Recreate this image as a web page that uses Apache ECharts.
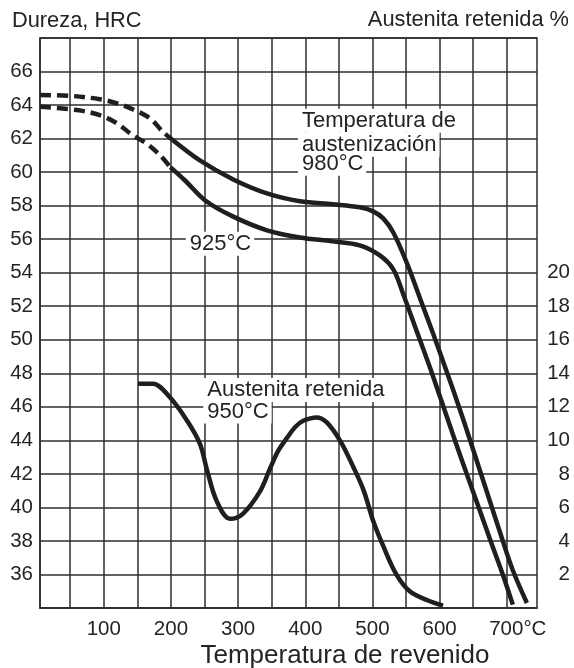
<!DOCTYPE html>
<html><head><meta charset="utf-8">
<script src="https://cdn.jsdelivr.net/npm/echarts@6/dist/echarts.min.js"></script>
<style>html,body{margin:0;padding:0;background:#fff}#c{width:574px;height:668px}</style>
</head><body><div id="c"></div>
<script>
// Temperature grid / tick values (°C)
const xGridValues = [50,100,150,200,250,300,350,400,450,500,550,600,650,700];
const xLabelValues = [100,200,300,400,500,600,700];
// Hardness (HRC) – austenitized at 980 °C
const hrc980Dashed = [[5,64.6],[50,64.55],[94,64.35],[120,64.1],[143,63.75],[169,63.2],[188,62.4],[203,61.9]];
const hrc980Solid = [[203,61.9],[243,60.7],[292,59.58],[343,58.73],[392,58.26],[441,58.08],[481,57.9],[501,57.66],[516,57.24],[531,56.4],[551,54.6],[571,52.45],[590,50.4],[611,48.05],[628,46.1],[645,44.05],[660,42.2],[675,40.35],[690,38.5],[709,36.25],[730,34.3]];
// Hardness (HRC) – austenitized at 925 °C
const hrc925Dashed = [[5,63.9],[60,63.7],[94,63.4],[120,62.9],[143,62.2],[164,61.7],[184,61.0],[199,60.3]];
const hrc925Solid = [[199,60.3],[221,59.5],[251,58.31],[292,57.36],[343,56.53],[392,56.1],[441,55.87],[481,55.63],[511,55.03],[531,54.2],[546,52.7],[566,50.5],[586,48.3],[601,46.55],[616,44.8],[635,42.6],[656,40.25],[675,38.1],[694,36.0],[709,34.2]];
// Retained austenite (%) – austenitized at 950 °C
const austenite950 = [[151,13.38],[173,13.38],[199,12.54],[224,11.17],[243,9.8],[254,8.18],[268,6.39],[288,5.32],[307,5.62],[333,6.99],[348,8.37],[360,9.4],[373,10.16],[385,10.8],[397,11.17],[417,11.37],[432,11.07],[452,9.97],[472,8.37],[487,7.0],[501,5.2],[516,3.7],[536,1.98],[556,0.98],[581,0.48],[605,0.14]];

const FONT = "'Liberation Sans', Arial, Helvetica, sans-serif";
const INK = '#242424';
const GRIDC = '#2e2e2e';

const chart = echarts.init(document.getElementById('c'), null, {renderer: 'canvas'});
const curve = (data, dashed, yIdx) => ({
  type: 'line', data: data, yAxisIndex: yIdx || 0, showSymbol: false, symbol: 'none',
  smooth: 0.35, silent: true, z: 3,
  lineStyle: {color: '#1f1f1f', width: 4.5, type: dashed ? [11, 6] : 'solid', cap: 'butt', join: 'round'}
});

chart.setOption({
  backgroundColor: '#ffffff',
  animation: false,
  textStyle: {fontFamily: FONT},
  grid: {left: 40, right: 37, top: 38, bottom: 60, show: true, borderColor: GRIDC, borderWidth: 1.5, containLabel: false},
  xAxis: {
    type: 'value', min: 5, max: 745,
    axisLine: {show: true, lineStyle: {color: GRIDC, width: 1.5}},
    axisTick: {show: false, customValues: xGridValues},
    splitLine: {show: true, lineStyle: {color: GRIDC, width: 1.5}},
    axisLabel: {
      customValues: xLabelValues, margin: 11, color: INK, fontSize: 20.5, fontFamily: FONT,
      formatter: v => v === 700 ? '{u|700°C}' : String(v),
      rich: {u: {fontSize: 20.5, fontFamily: FONT, color: INK, padding: [0, 0, 0, 22]}}
    }
  },
  yAxis: [{
    type: 'value', min: 34, max: 68, interval: 2, position: 'left',
    axisLine: {show: true, lineStyle: {color: GRIDC, width: 1.5}},
    axisTick: {show: false},
    splitLine: {show: true, lineStyle: {color: GRIDC, width: 1.5}},
    axisLabel: {margin: 7, color: INK, fontSize: 20.5, fontFamily: FONT,
      formatter: v => (v < 36 || v > 66) ? '' : String(v)}
  }, {
    type: 'value', min: 0, max: 34, interval: 2, position: 'right',
    axisLine: {show: false}, axisTick: {show: false}, splitLine: {show: false},
    axisLabel: {margin: 33, align: 'right', color: INK, fontSize: 20.5, fontFamily: FONT,
      padding: [0, 0, 8, 0],
      formatter: v => (v >= 2 && v <= 20) ? String(v) : ''}
  }],
  series: [
    curve(hrc980Dashed, true), curve(hrc980Solid, false),
    curve(hrc925Dashed, true), curve(hrc925Solid, false),
    curve(austenite950, false, 1)
  ]
});

// Annotations anchored in data coordinates (left axis)
const notes = [
  ['Temperatura de', 395, 63.06],
  ['austenización', 395, 61.63],
  ['980°C', 395, 60.5],
  ['925°C', 228, 55.73],
  ['Austenita retenida', 254, 47.01],
  ['950°C', 254, 45.72]
];
const PADL = 4;
const graphics = notes.map(([t, x, y]) => {
  const p = chart.convertToPixel({xAxisIndex: 0, yAxisIndex: 0}, [x, y]);
  return {type: 'text', x: p[0] - PADL, y: p[1], z: 5, silent: true,
    style: {text: t, font: '22px ' + FONT, fill: INK, align: 'left', verticalAlign: 'middle',
      backgroundColor: '#fff', padding: [1, 3, 1, PADL]}};
});
graphics.push(
  {type: 'text', x: 12, y: 21, z: 5, style: {text: 'Dureza, HRC', font: '21.8px ' + FONT, fill: INK, align: 'left', verticalAlign: 'middle'}},
  {type: 'text', x: 569, y: 20, z: 5, style: {text: 'Austenita retenida %', font: '21.8px ' + FONT, fill: INK, align: 'right', verticalAlign: 'middle'}},
  {type: 'text', x: 345, y: 656, z: 5, style: {text: 'Temperatura de revenido', font: '26px ' + FONT, fill: INK, align: 'center', verticalAlign: 'middle'}}
);
chart.setOption({graphic: graphics});
</script></body></html>
